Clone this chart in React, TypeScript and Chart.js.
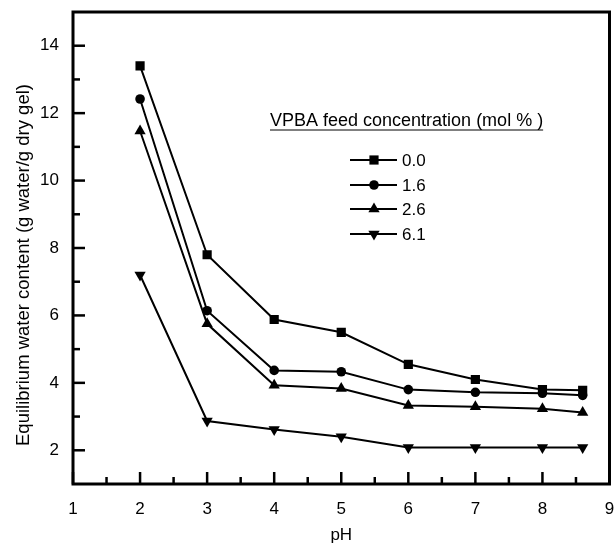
import React, { useEffect, useRef } from 'react';
import { Chart, registerables } from 'chart.js';

Chart.register(...registerables);

// ---- data ----
const pH = [2, 3, 4, 5, 6, 7, 8, 8.6];
const conc00 = [13.4, 7.8, 5.88, 5.5, 4.55, 4.1, 3.8, 3.78];
const conc16 = [12.42, 6.14, 4.37, 4.33, 3.8, 3.72, 3.69, 3.63];
const conc26 = [11.47, 5.75, 3.93, 3.83, 3.33, 3.29, 3.23, 3.12];
const conc61 = [7.2, 2.87, 2.62, 2.4, 2.08, 2.08, 2.08, 2.08];
const seriesLabels = ['0.0', '1.6', '2.6', '6.1'];
const legendTitle = 'VPBA feed concentration (mol % )';
const xTitle = 'pH';
const yTitle = 'Equilibrium water content (g water/g dry gel)';
const xMajorTicks = [1, 2, 3, 4, 5, 6, 7, 8, 9];
const xMinorTicks = [1.5, 2.5, 3.5, 4.5, 5.5, 6.5, 7.5, 8.5];
const yMajorTicks = [2, 4, 6, 8, 10, 12, 14];
const yMinorTicks = [3, 5, 7, 9, 11, 13];

const FONT = '"Liberation Sans", Arial, Helvetica, sans-serif';

type Marker = { style: string; rotation: number; radius: number };
const markers: Marker[] = [
  { style: 'rect', rotation: 0, radius: 6.5 },
  { style: 'circle', rotation: 0, radius: 4.8 },
  { style: 'triangle', rotation: 0, radius: 6.5 },
  { style: 'triangle', rotation: 180, radius: 6.5 },
];

function drawMarker(ctx: CanvasRenderingContext2D, m: Marker, x: number, y: number) {
  const r = m.radius;
  ctx.beginPath();
  if (m.style === 'rect') {
    const h = r * Math.SQRT1_2;
    ctx.rect(x - h, y - h, 2 * h, 2 * h);
  } else if (m.style === 'circle') {
    ctx.arc(x, y, r, 0, Math.PI * 2);
  } else {
    const rad = (m.rotation * Math.PI) / 180;
    for (let i = 0; i < 3; i++) {
      const a = rad - Math.PI / 2 + (i * 2 * Math.PI) / 3;
      const px = x + Math.cos(a) * r;
      const py = y + Math.sin(a) * r;
      if (i === 0) ctx.moveTo(px, py);
      else ctx.lineTo(px, py);
    }
    ctx.closePath();
  }
  ctx.fill();
}

const decorPlugin = {
  id: 'decor',
  afterDraw(chart: any) {
    const ctx: CanvasRenderingContext2D = chart.ctx;
    const { left, right, top, bottom } = chart.chartArea;
    const xs = chart.scales.x;
    const ys = chart.scales.y;
    ctx.save();
    ctx.strokeStyle = '#000';
    ctx.fillStyle = '#000';
    ctx.lineWidth = 2.5;
    const tick = (x1: number, y1: number, x2: number, y2: number) => {
      ctx.beginPath();
      ctx.moveTo(x1, y1);
      ctx.lineTo(x2, y2);
      ctx.stroke();
    };
    xMajorTicks.forEach((v) => {
      const px = xs.getPixelForValue(v);
      tick(px, bottom, px, bottom - 12);
    });
    xMinorTicks.forEach((v) => {
      const px = xs.getPixelForValue(v);
      tick(px, bottom, px, bottom - 7);
    });
    yMajorTicks.forEach((v) => {
      const py = ys.getPixelForValue(v);
      tick(left, py, left + 12, py);
    });
    yMinorTicks.forEach((v) => {
      const py = ys.getPixelForValue(v);
      tick(left, py, left + 7, py);
    });
    ctx.lineWidth = 3;
    ctx.strokeRect(left, top, right - left, bottom - top);

    // y title
    ctx.font = `18.5px ${FONT}`;
    ctx.textAlign = 'center';
    ctx.textBaseline = 'middle';
    ctx.save();
    ctx.translate(24, 265);
    ctx.rotate(-Math.PI / 2);
    ctx.fillText(yTitle, 0, 0);
    ctx.restore();

    // legend title (underlined)
    ctx.font = `18px ${FONT}`;
    ctx.textAlign = 'left';
    ctx.textBaseline = 'alphabetic';
    const tx = 270;
    const ty = 126;
    ctx.fillText(legendTitle, tx, ty);
    const w = ctx.measureText(legendTitle).width;
    ctx.lineWidth = 1;
    tick(tx, ty + 4, tx + w, ty + 4);

    // legend entries
    ctx.font = `17px ${FONT}`;
    ctx.textBaseline = 'middle';
    const rows = [160, 185, 209, 234];
    seriesLabels.forEach((lab, i) => {
      const y = rows[i];
      ctx.lineWidth = 2;
      tick(350, y, 397, y);
      drawMarker(ctx, markers[i], 374, y);
      ctx.fillText(lab, 402, y + 1);
    });
    ctx.restore();
  },
};

export default function App() {
  const ref = useRef<HTMLCanvasElement | null>(null);
  useEffect(() => {
    if (!ref.current) return;
    const series = [conc00, conc16, conc26, conc61];
    const chart = new Chart(ref.current, {
      type: 'line',
      data: {
        datasets: series.map((vals, i) => ({
          label: seriesLabels[i],
          data: pH.map((x, j) => ({ x, y: vals[j] })),
          borderColor: '#000',
          backgroundColor: '#000',
          borderWidth: 2,
          pointStyle: markers[i].style as any,
          rotation: markers[i].rotation,
          pointRotation: markers[i].rotation,
          pointRadius: markers[i].radius,
          pointBackgroundColor: '#000',
          pointBorderColor: '#000',
          pointBorderWidth: 0,
          tension: 0,
          fill: false,
        })),
      },
      options: {
        animation: false,
        responsive: false,
        devicePixelRatio: 1,
        layout: { padding: { top: 12, right: 2, left: 0, bottom: 0 } },
        plugins: { legend: { display: false }, tooltip: { enabled: false } },
        scales: {
          x: {
            type: 'linear',
            min: 1,
            max: 9,
            grid: { display: false, drawTicks: false },
            border: { display: false },
            afterBuildTicks: (s: any) => {
              s.ticks = xMajorTicks.map((v) => ({ value: v }));
            },
            afterFit: (s: any) => {
              s.height = 64;
              s.paddingLeft = 0;
              s.paddingRight = 0;
            },
            ticks: {
              autoSkip: false,
              maxRotation: 0,
              padding: 15,
              color: '#000',
              font: { family: FONT, size: 17 },
            },
            title: {
              display: true,
              text: xTitle,
              color: '#000',
              font: { family: FONT, size: 17 },
              padding: { top: 0, bottom: 2 },
            },
          },
          y: {
            type: 'linear',
            min: 1,
            max: 15,
            grid: { display: false, drawTicks: false },
            border: { display: false },
            afterBuildTicks: (s: any) => {
              s.ticks = yMajorTicks.map((v) => ({ value: v }));
            },
            afterFit: (s: any) => {
              s.width = 73;
              s.paddingTop = 0;
              s.paddingBottom = 0;
            },
            ticks: {
              padding: 14,
              color: '#000',
              font: { family: FONT, size: 17 },
            },
          },
        },
      },
      plugins: [decorPlugin],
    } as any);
    return () => chart.destroy();
  }, []);
  return (
    <div style={{ position: 'fixed', left: 0, top: 0, width: 616, height: 548, background: '#fff' }}>
      <canvas ref={ref} width={616} height={548} style={{ display: 'block' }} />
    </div>
  );
}
